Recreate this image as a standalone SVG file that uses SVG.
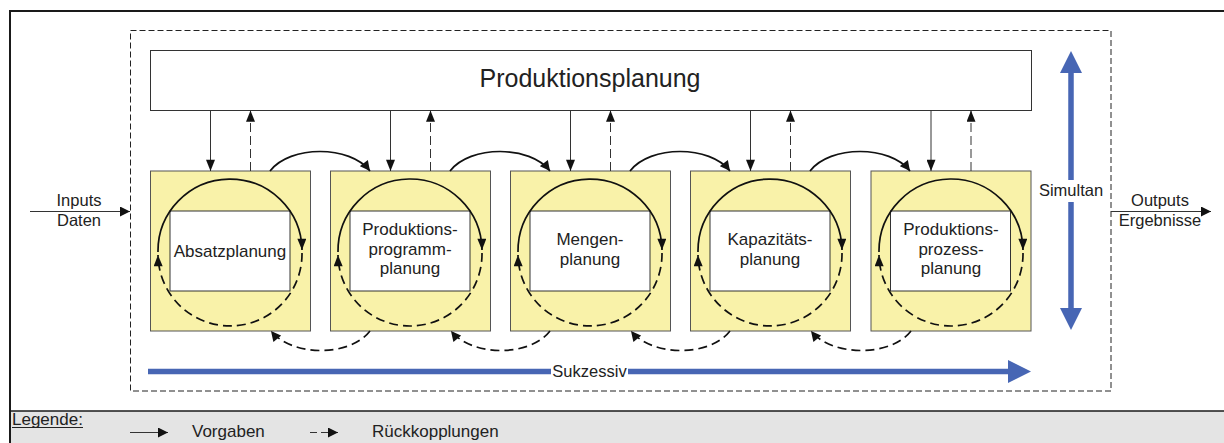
<svg xmlns="http://www.w3.org/2000/svg" width="1224" height="443" viewBox="0 0 1224 443">
<style>
text{font-family:"Liberation Sans",Arial,sans-serif;fill:#222;}
.lbl{font-size:17px;text-anchor:middle;}
.box{fill:#f9f2a9;stroke:#555;stroke-width:1;}
.inner{fill:#fff;stroke:#333;stroke-width:1;}
.v{fill:none;stroke:#333;stroke-width:1;}
.vd{fill:none;stroke:#333;stroke-width:1;stroke-dasharray:9 4;}
.c{fill:none;stroke:#111;stroke-width:1.7;}
.cd{fill:none;stroke:#111;stroke-width:1.7;stroke-dasharray:9 5;}
.blue{fill:none;stroke:#4766b4;stroke-width:5.5;}
.bluef{fill:#4766b4;}
</style>
<defs>
<marker id="ah" viewBox="0 0 10 10" refX="10" refY="5" markerWidth="11" markerHeight="10" markerUnits="userSpaceOnUse" orient="auto"><path d="M0,0 L10,5 L0,10 z" fill="#111"/></marker>
<marker id="as" viewBox="0 0 10 8" refX="10" refY="4" markerWidth="12" markerHeight="9" markerUnits="userSpaceOnUse" orient="auto"><path d="M0,0 L10,4 L0,8 z" fill="#111"/></marker>
</defs>
<!-- frame -->
<rect x="10" y="411" width="1214" height="32" fill="#e4e4e4"/>
<path d="M10,443 V11 H1224" fill="none" stroke="#1a1a1a" stroke-width="2"/>
<line x1="10" y1="411" x2="1224" y2="411" stroke="#1a1a1a" stroke-width="1.5"/>
<rect x="130.5" y="30.5" width="980.5" height="360.5" fill="none" stroke="#222" stroke-width="1" stroke-dasharray="6 3"/>
<g id="produktionsplanung">
<rect x="150.5" y="50.5" width="881" height="60" fill="#fff" stroke="#333" stroke-width="1"/>
<text x="590" y="87" style="font-size:25px;text-anchor:middle">Produktionsplanung</text>
</g>
<g id="absatzplanung">
<rect class="box" x="150.5" y="171" width="160" height="160"/>
<rect class="inner" x="170" y="211" width="120" height="80"/>
<text class="lbl" x="230" y="257">Absatzplanung</text>
</g>
<g id="programmplanung">
<rect class="box" x="330.5" y="171" width="160" height="160"/>
<rect class="inner" x="350" y="211" width="120" height="80"/>
<text class="lbl" x="410" y="235">Produktions-</text>
<text class="lbl" x="410" y="254.5">programm-</text>
<text class="lbl" x="410" y="274">planung</text>
</g>
<g id="mengenplanung">
<rect class="box" x="510.5" y="171" width="160" height="160"/>
<rect class="inner" x="530" y="211" width="120" height="80"/>
<text class="lbl" x="590" y="245">Mengen-</text>
<text class="lbl" x="590" y="265">planung</text>
</g>
<g id="kapazitaetsplanung">
<rect class="box" x="690.5" y="171" width="160" height="160"/>
<rect class="inner" x="710" y="211" width="120" height="80"/>
<text class="lbl" x="770" y="245">Kapazitäts-</text>
<text class="lbl" x="770" y="265">planung</text>
</g>
<g id="prozessplanung">
<rect class="box" x="871" y="171" width="160" height="160"/>
<rect class="inner" x="890.5" y="211" width="120" height="80"/>
<text class="lbl" x="951" y="235">Produktions-</text>
<text class="lbl" x="951" y="254.5">prozess-</text>
<text class="lbl" x="951" y="274">planung</text>
</g>
<g id="connectors">
<path class="v" d="M210.5,110.5 V171" marker-end="url(#as)"/>
<path class="vd" d="M250.5,171 V110.5" marker-end="url(#as)"/>
<path class="v" d="M390.5,110.5 V171" marker-end="url(#as)"/>
<path class="vd" d="M430.5,171 V110.5" marker-end="url(#as)"/>
<path class="v" d="M570.5,110.5 V171" marker-end="url(#as)"/>
<path class="vd" d="M610.5,171 V110.5" marker-end="url(#as)"/>
<path class="v" d="M750.5,110.5 V171" marker-end="url(#as)"/>
<path class="vd" d="M790.5,171 V110.5" marker-end="url(#as)"/>
<path class="v" d="M931,110.5 V171" marker-end="url(#as)"/>
<path class="vd" d="M971,171 V110.5" marker-end="url(#as)"/>
<path class="c" d="M158,252 A72,72 0 0 1 302,250" marker-end="url(#as)"/>
<path class="cd" d="M302,253 A72,72 0 0 1 158,255" marker-end="url(#as)"/>
<path class="c" d="M338,252 A72,72 0 0 1 482,250" marker-end="url(#as)"/>
<path class="cd" d="M482,253 A72,72 0 0 1 338,255" marker-end="url(#as)"/>
<path class="c" d="M518,252 A72,72 0 0 1 662,250" marker-end="url(#as)"/>
<path class="cd" d="M662,253 A72,72 0 0 1 518,255" marker-end="url(#as)"/>
<path class="c" d="M698,252 A72,72 0 0 1 842,250" marker-end="url(#as)"/>
<path class="cd" d="M842,253 A72,72 0 0 1 698,255" marker-end="url(#as)"/>
<path class="c" d="M879,252 A72,72 0 0 1 1023,250" marker-end="url(#as)"/>
<path class="cd" d="M1023,253 A72,72 0 0 1 879,255" marker-end="url(#as)"/>
<path class="c" d="M270,171 C290,145 350,145 370,171" marker-end="url(#ah)"/>
<path class="c" d="M450,171 C470,145 530,145 550,171" marker-end="url(#ah)"/>
<path class="c" d="M630,171 C650,145 710,145 730,171" marker-end="url(#ah)"/>
<path class="c" d="M810,171 C830,145 890,145 910,171" marker-end="url(#ah)"/>
<path class="cd" d="M370,331 C350,357 292,357 271,331" marker-end="url(#ah)"/>
<path class="cd" d="M550,331 C530,357 472,357 451,331" marker-end="url(#ah)"/>
<path class="cd" d="M730,331 C710,357 652,357 631,331" marker-end="url(#ah)"/>
<path class="cd" d="M911,331 C891,357 832,357 811,331" marker-end="url(#ah)"/>
<path class="v" d="M30,211.5 H130" marker-end="url(#ah)"/>
<path class="v" d="M1111,211.5 H1211" marker-end="url(#ah)"/>
<path class="blue" d="M1071,70 V180 M1071,202 V310"/>
<polygon class="bluef" points="1071,51 1082,73 1060,73"/>
<polygon class="bluef" points="1071,330 1082,308 1060,308"/>
<path class="blue" d="M148,371.5 H551 M628,371.5 H1010"/>
<polygon class="bluef" points="1031,371.5 1008,360 1008,383"/>
</g>
<text x="79" y="206" style="font-size:16.5px;text-anchor:middle">Inputs</text>
<text x="79" y="226" style="font-size:16.5px;text-anchor:middle">Daten</text>
<text x="1160" y="206" style="font-size:16.5px;text-anchor:middle">Outputs</text>
<text x="1160" y="226" style="font-size:16.5px;text-anchor:middle">Ergebnisse</text>
<text x="1071" y="196" style="font-size:16.5px;text-anchor:middle">Simultan</text>
<text x="589.5" y="377" style="font-size:16.5px;text-anchor:middle">Sukzessiv</text>
<g id="legende">
<text x="12" y="425" style="font-size:17px">Legende:</text>
<line x1="12" y1="427.5" x2="83" y2="427.5" stroke="#222" stroke-width="1"/>
<path class="v" d="M130,432.5 H168" stroke="#111" marker-end="url(#ah)"/>
<text x="192" y="437" style="font-size:17px">Vorgaben</text>
<path class="v" d="M310,432.5 H338" style="stroke-dasharray:7 4" marker-end="url(#ah)"/>
<text x="372" y="437" style="font-size:17px">Rückkopplungen</text>
</g>
</svg>
